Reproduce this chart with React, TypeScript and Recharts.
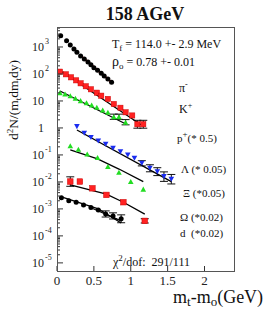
import { ComposedChart, Scatter, Line, XAxis, YAxis, ErrorBar } from 'recharts'

// x = mt - m0 (GeV), y = d2N/(mt dmt dy)
const piX = [0.05, 0.13, 0.18, 0.23, 0.27, 0.32, 0.37, 0.42, 0.46, 0.5, 0.55, 0.6, 0.64, 0.69, 0.74]
const piY = [2630, 1710, 1190, 840, 640, 464, 360, 278, 221, 171, 137, 106, 84, 65, 49]
const piFitX = [0.31, 0.74]
const piFitY = [500, 49]

const kX = [0.04, 0.12, 0.19, 0.26, 0.32, 0.39, 0.46, 0.54, 0.6, 0.69, 0.77, 0.86, 0.93, 1.02, 1.09, 1.17]
const kY = [122, 97, 75, 58, 45, 35, 27, 20.3, 15.7, 11.9, 7.7, 5.6, 3.8, 2.9, 1.37, 1.37]
const kErr = [0, 0, 0, 0, 0, 0, 0, 0, 0, 0, 0, 0, 0, 0, 0.4, 0.4]
const kFitX = [0.04, 1.16]
const kFitY = [135, 1.2]

const gX = [0.04, 0.11, 0.18, 0.25, 0.32, 0.4, 0.47, 0.54, 0.62, 0.69, 0.77, 0.84, 0.93]
const gY = [20.3, 18.2, 15.7, 12.6, 10.3, 8.6, 7.1, 5.8, 4.6, 3.8, 2.6, 2.6, 1.63]
const gErr = [0, 0, 0, 0, 0, 0, 0, 0, 0, 0, 0.25, 0.25, 0.25]
const gFitX = [0.04, 0.94]
const gFitY = [23.4, 1.37]

const pX = [0.27, 0.37, 0.46, 0.56, 0.66, 0.76, 0.86, 0.96, 1.05, 1.15, 1.26, 1.36, 1.45, 1.55]
const pY = [1.12, 0.64, 0.44, 0.33, 0.25, 0.177, 0.132, 0.1, 0.075, 0.049, 0.032, 0.024, 0.0157, 0.0126]
const pErr = [0, 0, 0, 0, 0, 0, 0, 0, 0, 0.25, 0.35, 0.4, 0.5, 0.5]
const pFitX = [0.27, 1.55]
const pFitY = [0.84, 0.0103]

const lamX = [0.18, 0.29, 0.41, 0.55, 0.69, 0.84, 1.0, 1.17]
const lamY = [0.22, 0.163, 0.109, 0.08, 0.037, 0.023, 0.0103, 0.0054]
const lamFitX = [0.18, 0.55, 0.84, 1.17]
const lamFitY = [0.153, 0.071, 0.03, 0.0103]

const xiX = [0.18, 0.31, 0.48, 0.67, 0.9, 1.19]
const xiY = [0.0103, 0.0103, 0.0058, 0.0033, 0.00177, 0.00036]
const xiErr = [0.5, 0, 0, 0, 0, 0.2]
const xiFitX = [0.18, 0.67, 0.9, 1.19]
const xiFitY = [0.0077, 0.0035, 0.00177, 0.00064]

const omX = [0.06, 0.16, 0.26, 0.36, 0.46, 0.56, 0.66, 0.76, 0.87]
const omY = [0.0026, 0.002, 0.00177, 0.0014, 0.00112, 0.00092, 0.00065, 0.00055, 0.00043]
const omErr = [0, 0, 0, 0, 0, 0, 0.3, 0.3, 0.4]
const omFitX = [0.06, 0.56, 0.87]
const omFitY = [0.0028, 0.001, 0.0003]
const dFitX = [0.46, 0.87]
const dFitY = [0.0011, 0.00036]

const xTicks = [0, 0.5, 1, 1.5, 2]
const xTickLabels = ['0', '0.5', '1', '1.5', '2']
const yDecades = [-5, -4, -3, -2, -1, 0, 1, 2, 3]

const serif = '"Liberation Serif", "Times New Roman", serif'

const pts = (xs: number[], ys: number[], errs?: number[]) =>
  xs.map((x, i) => {
    const f = errs ? errs[i] : 0
    return { x, y: ys[i], err: f ? [ys[i] - ys[i] / (1 + f), ys[i] * f] : undefined }
  })

// log axis: a tick at every 1..9 x 10^e inside the domain
const yTicks: number[] = []
yDecades.forEach((e) => {
  for (let m = 1; m < 10; m++) {
    const v = m * Math.pow(10, e)
    if (v >= 5e-6 && v <= 5500) yTicks.push(v)
  }
})

const YTick = ({ x, y, payload }: any) => {
  const lg = Math.log10(payload.value)
  const e = Math.round(lg)
  const major = Math.abs(lg - e) < 1e-6
  return (
    <g>
      <line x1={x} x2={x + (major ? 6 : 3)} y1={y} y2={y} stroke="#333" strokeWidth={1} />
      {major && (
        <g fontFamily={serif} fill="#222">
          <text x={x - 13} y={y} dy={4} textAnchor="end" fontSize={12}>
            {e === 0 ? '1' : '10'}
          </text>
          {e !== 0 && e !== 1 && (
            <text x={x - 12} y={y - 3} fontSize={8}>
              {String(e)}
            </text>
          )}
        </g>
      )}
    </g>
  )
}

const XTick = ({ x, y, payload, index }: any) => (
  <g>
    <line x1={x} x2={x} y1={y} y2={y - 5} stroke="#333" strokeWidth={1} />
    <text x={x} y={y + 14} textAnchor="middle" fontSize={13} fontFamily={serif} fill="#222">
      {xTickLabels[xTicks.indexOf(payload.value)] ?? index}
    </text>
  </g>
)

const dot = (r: number, fill: string) => (p: any) => <circle cx={p.cx} cy={p.cy} r={r} fill={fill} />
const square = (s: number, fill: string) => (p: any) => (
  <rect x={p.cx - s / 2} y={p.cy - s / 2} width={s} height={s} fill={fill} stroke="#c00" strokeWidth={0.5} />
)
const tri = (s: number, fill: string, down: boolean) => (p: any) => {
  const h = s * 0.9
  const d = down
    ? `M${p.cx - s / 2},${p.cy - h / 2} L${p.cx + s / 2},${p.cy - h / 2} L${p.cx},${p.cy + h / 2} Z`
    : `M${p.cx - s / 2},${p.cy + h / 2} L${p.cx + s / 2},${p.cy + h / 2} L${p.cx},${p.cy - h / 2} Z`
  return <path d={d} fill={fill} />
}

const Txt = ({ left, top, size = 12, children }: any) => (
  <div
    style={{
      position: 'absolute',
      left,
      top: top - size / 2,
      fontSize: size,
      lineHeight: `${size}px`,
      fontFamily: serif,
      color: '#111',
      whiteSpace: 'nowrap',
    }}
  >
    {children}
  </div>
)

const sub = (t: string, s = 9) => (
  <span style={{ fontSize: s, position: 'relative', top: 3 }}>{t}</span>
)
const sup = (t: string, s = 9) => (
  <span style={{ fontSize: s, position: 'relative', top: -5 }}>{t}</span>
)

export default function App() {
  const eb = <ErrorBar dataKey="err" direction="y" width={4} stroke="#111" strokeWidth={1} />
  return (
    <div style={{ position: 'absolute', left: 0, top: 0, width: 273, height: 313, background: '#fff' }}>
      <ComposedChart width={273} height={313} margin={{ top: 27, right: 39, bottom: 0, left: 0 }}>
        <XAxis
          dataKey="x"
          type="number"
          domain={[0, 2.4]}
          ticks={xTicks}
          allowDataOverflow
          axisLine={false}
          tickLine={false}
          tickSize={0}
          tickMargin={0}
          height={42}
          interval={0}
          tick={<XTick />}
        />
        <YAxis
          type="number"
          scale="log"
          domain={[5e-6, 5500]}
          ticks={yTicks}
          allowDataOverflow
          axisLine={false}
          tickLine={false}
          tickSize={0}
          tickMargin={0}
          width={57}
          interval={0}
          tick={<YTick />}
        />
        <Scatter data={pts(piX, piY)} dataKey="y" shape={dot(2.5, '#000')} isAnimationActive={false} />
        <Scatter data={pts(kX, kY, kErr)} dataKey="y" shape={square(5.2, '#f22')} isAnimationActive={false}>
          {eb}
        </Scatter>
        <Scatter data={pts(gX, gY, gErr)} dataKey="y" shape={tri(5.6, '#2d2', false)} isAnimationActive={false}>
          {eb}
        </Scatter>
        <Scatter data={pts(pX, pY, pErr)} dataKey="y" shape={tri(5.6, '#1a2cf0', true)} isAnimationActive={false}>
          {eb}
        </Scatter>
        <Scatter data={pts(lamX, lamY)} dataKey="y" shape={tri(5.6, '#2d2', false)} isAnimationActive={false} />
        <Scatter data={pts(xiX, xiY, xiErr)} dataKey="y" shape={square(5.6, '#f22')} isAnimationActive={false}>
          {eb}
        </Scatter>
        <Scatter data={pts(omX, omY, omErr)} dataKey="y" shape={dot(2.5, '#000')} isAnimationActive={false}>
          {eb}
        </Scatter>
        <Line data={pts(piFitX, piFitY)} dataKey="y" stroke="#e00" strokeWidth={2} dot={false} type="linear" isAnimationActive={false} />
        <Line data={pts(kFitX, kFitY)} dataKey="y" stroke="#000" strokeWidth={1.3} dot={false} type="linear" isAnimationActive={false} />
        <Line data={pts(gFitX, gFitY)} dataKey="y" stroke="#000" strokeWidth={1.3} dot={false} type="linear" isAnimationActive={false} />
        <Line data={pts(pFitX, pFitY)} dataKey="y" stroke="#000" strokeWidth={1.3} dot={false} type="linear" isAnimationActive={false} />
        <Line data={pts(lamFitX, lamFitY)} dataKey="y" stroke="#000" strokeWidth={1.3} dot={false} type="linear" isAnimationActive={false} />
        <Line data={pts(xiFitX, xiFitY)} dataKey="y" stroke="#000" strokeWidth={1.3} dot={false} type="linear" isAnimationActive={false} />
        <Line data={pts(omFitX, omFitY)} dataKey="y" stroke="#000" strokeWidth={1.3} dot={false} type="linear" isAnimationActive={false} />
        <Line data={pts(dFitX, dFitY)} dataKey="y" stroke="#000" strokeWidth={1.1} dot={false} type="linear" isAnimationActive={false} />
      </ComposedChart>

      <div
        style={{
          position: 'absolute',
          left: 57,
          top: 27,
          width: 176,
          height: 243,
          border: '1px solid #555',
          boxSizing: 'content-box',
        }}
      />

      <div style={{ position: 'absolute', left: 0, width: 290, top: 5, textAlign: 'center', fontFamily: serif, fontWeight: 700, fontSize: 18, lineHeight: '18px', color: '#111' }}>
        158 AGeV
      </div>

      <div
        style={{
          position: 'absolute',
          left: 14,
          top: 100,
          transform: 'translate(-50%, -50%) rotate(-90deg)',
          fontFamily: serif,
          fontSize: 13.5,
          whiteSpace: 'nowrap',
          color: '#111',
        }}
      >
        d{sup('2')}N/(m{sub('t')}dm{sub('t')}dy)
      </div>

      <Txt left={112} top={44} size={12}>
        T{sub('f')} = 114.0 +- 2.9 MeV
      </Txt>
      <Txt left={112} top={62} size={12}>
        <span style={{ fontSize: 14 }}>ρ</span>
        {sub('o')} = 0.78 +- 0.01
      </Txt>
      <Txt left={179} top={88} size={12}>
        π{sup('-', 8)}
      </Txt>
      <Txt left={179} top={109} size={12}>
        K{sup('+', 8)}
      </Txt>
      <Txt left={177} top={138} size={11}>
        p{sup('+', 9)}(* 0.5)
      </Txt>
      <Txt left={181} top={169} size={11}>
        Λ (* 0.05)
      </Txt>
      <Txt left={183} top={193} size={11}>
        Ξ (*0.05)
      </Txt>
      <Txt left={180} top={217} size={11}>
        Ω (*0.02)
      </Txt>
      <Txt left={180} top={233} size={11}>
        d &nbsp;(*0.02)
      </Txt>
      <Txt left={113} top={262} size={12}>
        χ{sup('2', 9)}/dof:&nbsp; 291/111
      </Txt>
      <Txt left={173} top={297} size={18}>
        m{sub('t', 13)}-m{sub('o', 13)}(GeV)
      </Txt>
    </div>
  )
}
